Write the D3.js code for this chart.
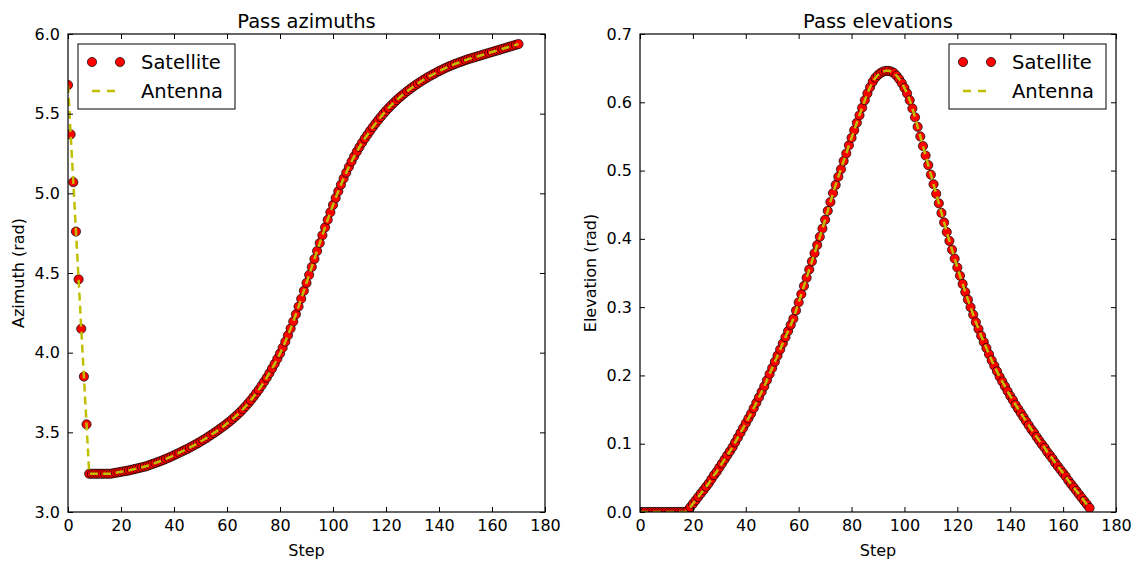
<!DOCTYPE html>
<html>
<head>
<meta charset="utf-8">
<script src="https://cdn.jsdelivr.net/npm/d3@7"></script>
<style>
  body { margin: 0; background: #fff; }
  svg text { font-family: "DejaVu Sans", sans-serif; fill: #000; }
</style>
</head>
<body>
<svg id="vis" width="1136" height="563"></svg>
<script>
'use strict';

// values, one per step (0..170)
var azimuthSatellite = [
    5.68, 5.37, 5.07, 4.76, 4.46, 4.15, 3.85, 3.55, 3.24, 3.24,
    3.24, 3.24, 3.24, 3.24, 3.24, 3.24, 3.240, 3.243, 3.246, 3.249,
    3.252, 3.255, 3.258, 3.261, 3.265, 3.269, 3.273, 3.277, 3.281, 3.285,
    3.290, 3.296, 3.302, 3.308, 3.314, 3.320, 3.327, 3.334, 3.341, 3.348,
    3.356, 3.364, 3.372, 3.380, 3.388, 3.396, 3.405, 3.414, 3.423, 3.432,
    3.442, 3.452, 3.462, 3.473, 3.484, 3.495, 3.506, 3.518, 3.530, 3.542,
    3.555, 3.568, 3.582, 3.597, 3.612, 3.628, 3.645, 3.663, 3.682, 3.702,
    3.723, 3.745, 3.768, 3.792, 3.817, 3.843, 3.871, 3.900, 3.930, 3.962,
    3.995, 4.031, 4.069, 4.109, 4.151, 4.195, 4.241, 4.289, 4.338, 4.388,
    4.438, 4.488, 4.538, 4.588, 4.638, 4.688, 4.737, 4.786, 4.834, 4.881,
    4.927, 4.971, 5.013, 5.054, 5.093, 5.130, 5.166, 5.200, 5.232, 5.262,
    5.291, 5.318, 5.344, 5.368, 5.392, 5.415, 5.437, 5.458, 5.479, 5.499,
    5.518, 5.536, 5.553, 5.569, 5.585, 5.600, 5.614, 5.628, 5.641, 5.654,
    5.666, 5.678, 5.689, 5.700, 5.711, 5.721, 5.731, 5.740, 5.749, 5.758,
    5.767, 5.775, 5.783, 5.791, 5.798, 5.805, 5.812, 5.818, 5.824, 5.830,
    5.836, 5.842, 5.847, 5.852, 5.857, 5.862, 5.867, 5.872, 5.877, 5.882,
    5.887, 5.892, 5.897, 5.902, 5.907, 5.912, 5.917, 5.922, 5.927, 5.932,
    5.937
];

var elevationSatellite = [
    0, 0, 0, 0, 0, 0, 0, 0, 0, 0,
    0, 0, 0, 0, 0, 0, 0, 0, 0.002, 0.007,
    0.012, 0.017, 0.022, 0.027, 0.032, 0.037, 0.042, 0.048, 0.054, 0.059,
    0.065, 0.071, 0.077, 0.083, 0.089, 0.095, 0.102, 0.109, 0.116, 0.123,
    0.130, 0.137, 0.144, 0.152, 0.160, 0.168, 0.176, 0.184, 0.193, 0.202,
    0.211, 0.220, 0.229, 0.238, 0.247, 0.256, 0.265, 0.274, 0.283, 0.295,
    0.307, 0.319, 0.331, 0.343, 0.355, 0.367, 0.379, 0.391, 0.403, 0.415,
    0.428, 0.441, 0.454, 0.467, 0.479, 0.491, 0.502, 0.514, 0.525, 0.537,
    0.548, 0.559, 0.570, 0.581, 0.592, 0.603, 0.613, 0.622, 0.630, 0.636,
    0.640, 0.643, 0.645, 0.646, 0.646, 0.645, 0.643, 0.639, 0.634, 0.628,
    0.621, 0.613, 0.603, 0.591, 0.578, 0.564, 0.550, 0.536, 0.522, 0.508,
    0.494, 0.480, 0.466, 0.452, 0.438, 0.424, 0.410, 0.397, 0.384, 0.371,
    0.358, 0.346, 0.334, 0.322, 0.311, 0.300, 0.289, 0.278, 0.268, 0.258,
    0.249, 0.240, 0.231, 0.222, 0.214, 0.206, 0.198, 0.191, 0.184, 0.177,
    0.170, 0.164, 0.157, 0.151, 0.145, 0.139, 0.133, 0.127, 0.121, 0.116,
    0.110, 0.1045, 0.099, 0.094, 0.088, 0.083, 0.078, 0.072, 0.067, 0.062,
    0.057, 0.052, 0.046, 0.041, 0.036, 0.031, 0.026, 0.021, 0.016, 0.011,
    0.006
];

// the antenna tracks the satellite exactly in the picture
var azimuthAntenna = azimuthSatellite.slice();
var elevationAntenna = elevationSatellite.slice();

var stepTicks = [0, 20, 40, 60, 80, 100, 120, 140, 160, 180];
var azimuthTicks = [3.0, 3.5, 4.0, 4.5, 5.0, 5.5, 6.0];
var elevationTicks = [0.0, 0.1, 0.2, 0.3, 0.4, 0.5, 0.6, 0.7];
var seriesNames = ['Satellite', 'Antenna'];

var svg = d3.select('#vis');

var panels = [
    {
        id: 'az', title: 'Pass azimuths', ylabel: 'Azimuth (rad)',
        sat: azimuthSatellite, ant: azimuthAntenna,
        yDomain: [3.0, 6.0], yTicks: azimuthTicks, yFormat: d3.format('.1f'),
        box: { left: 68, right: 545, top: 34, bottom: 512 },
        legend: 'left', ylabelX: 18
    },
    {
        id: 'el', title: 'Pass elevations', ylabel: 'Elevation (rad)',
        sat: elevationSatellite, ant: elevationAntenna,
        yDomain: [0.0, 0.7], yTicks: elevationTicks, yFormat: d3.format('.1f'),
        box: { left: 640, right: 1116, top: 34, bottom: 512 },
        legend: 'right', ylabelX: 590
    }
];

function drawPanel(p) {
    var b = p.box;
    var x = d3.scaleLinear().domain([0, 180]).range([b.left, b.right]);
    var y = d3.scaleLinear().domain(p.yDomain).range([b.bottom, b.top]);
    var g = svg.append('g').attr('class', 'panel-' + p.id);

    g.append('clipPath').attr('id', 'clip-' + p.id)
        .append('rect')
        .attr('x', b.left).attr('y', b.top)
        .attr('width', b.right - b.left).attr('height', b.bottom - b.top);

    //data: dots first, dashed antenna line over them
    var plot = g.append('g').attr('clip-path', 'url(#clip-' + p.id + ')');
    plot.selectAll('circle')
        .data(p.sat)
        .enter().append('circle')
        .attr('cx', function (d, i) { return x(i); })
        .attr('cy', function (d) { return y(d); })
        .attr('r', 4.6)
        .attr('fill', '#ff0000')
        .attr('stroke', '#000')
        .attr('stroke-width', 0.7);

    var line = d3.line()
        .x(function (d, i) { return x(i); })
        .y(function (d) { return y(d); });
    plot.append('path')
        .datum(p.ant)
        .attr('d', line)
        .attr('fill', 'none')
        .attr('stroke', '#bfbf00')
        .attr('stroke-width', 2.5)
        .attr('stroke-dasharray', '8,5');

    //axes, ticks pointing inward on all four sides
    var axB = d3.axisBottom(x).tickValues(stepTicks).tickSizeInner(-5).tickSizeOuter(0).tickPadding(8);
    var axT = d3.axisTop(x).tickValues(stepTicks).tickSizeInner(-5).tickSizeOuter(0).tickFormat('');
    var axL = d3.axisLeft(y).tickValues(p.yTicks).tickSizeInner(-5).tickSizeOuter(0).tickPadding(8).tickFormat(p.yFormat);
    var axR = d3.axisRight(y).tickValues(p.yTicks).tickSizeInner(-5).tickSizeOuter(0).tickFormat('');

    [
        [axB, 'translate(0,' + b.bottom + ')'],
        [axT, 'translate(0,' + b.top + ')'],
        [axL, 'translate(' + b.left + ',0)'],
        [axR, 'translate(' + b.right + ',0)']
    ].forEach(function (a) {
        var ag = g.append('g').attr('transform', a[1]).call(a[0]);
        ag.select('.domain').remove();
        ag.selectAll('.tick line').attr('stroke', '#000').attr('stroke-width', 1);
        ag.selectAll('.tick text').attr('font-size', 16).attr('font-family', 'DejaVu Sans').attr('fill', '#000');
    });

    g.append('rect')
        .attr('x', b.left).attr('y', b.top)
        .attr('width', b.right - b.left).attr('height', b.bottom - b.top)
        .attr('fill', 'none').attr('stroke', '#000').attr('stroke-width', 1.2);

    //title and labels
    g.append('text')
        .attr('x', (b.left + b.right) / 2).attr('y', 28)
        .attr('text-anchor', 'middle').attr('font-size', 19.5)
        .text(p.title);
    g.append('text')
        .attr('x', (b.left + b.right) / 2).attr('y', 556)
        .attr('text-anchor', 'middle').attr('font-size', 16)
        .text('Step');
    g.append('text')
        .attr('transform', 'translate(' + p.ylabelX + ',' + ((b.top + b.bottom) / 2) + ') rotate(-90)')
        .attr('text-anchor', 'middle').attr('font-size', 16)
        .attr('dy', '0.35em')
        .text(p.ylabel);

    //legend
    var lw = 157, lh = 65;
    var lx = p.legend === 'left' ? b.left + 10 : b.right - 10 - lw;
    var ly = b.top + 10;
    var lg = g.append('g').attr('transform', 'translate(' + lx + ',' + ly + ')');
    lg.append('rect')
        .attr('width', lw).attr('height', lh)
        .attr('fill', '#fff').attr('stroke', '#000').attr('stroke-width', 1);
    seriesNames.forEach(function (name, i) {
        var cy = 18 + i * 29;
        if (i === 0) {
            [14, 42].forEach(function (cx) {
                lg.append('circle')
                    .attr('cx', cx).attr('cy', cy).attr('r', 4.6)
                    .attr('fill', '#ff0000').attr('stroke', '#000')
                    .attr('stroke-width', 0.7);
            });
        } else {
            lg.append('line')
                .attr('x1', 14).attr('x2', 42).attr('y1', cy).attr('y2', cy)
                .attr('stroke', '#bfbf00').attr('stroke-width', 2.5)
                .attr('stroke-dasharray', '8,7');
        }
        lg.append('text')
            .attr('x', 63).attr('y', cy).attr('dy', '0.35em')
            .attr('font-size', 19.5)
            .text(name);
    });
}

panels.forEach(drawPanel);
</script>
</body>
</html>
